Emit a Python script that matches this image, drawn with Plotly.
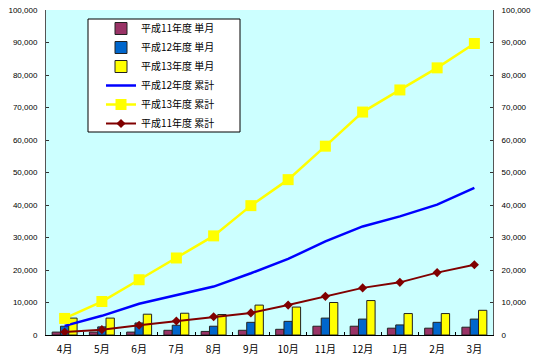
import plotly.graph_objects as go

months = ["4月", "5月", "6月", "7月", "8月", "9月", "10月", "11月", "12月", "1月", "2月", "3月"]

h11_month = [900, 900, 900, 1450, 1100, 1450, 1750, 2700, 2700, 2100, 2100, 2400]
h12_month = [2700, 2500, 3700, 3000, 2700, 3900, 4200, 5200, 4900, 3100, 3900, 4900]
h13_month = [5200, 5200, 6400, 6700, 6300, 9200, 8600, 10000, 10600, 6600, 6600, 7600]

h12_cum = [2800, 5900, 9600, 12300, 14900, 19000, 23400, 28800, 33400, 36500, 40100, 45300]
h13_cum = [5100, 10300, 17000, 23700, 30500, 39800, 47800, 58100, 68600, 75400, 82200, 89700]
h11_cum = [900, 1650, 3000, 4300, 5600, 6800, 9200, 11900, 14500, 16200, 19200, 21600]

y_ticks = list(range(0, 100001, 10000))

jp = "Noto Sans CJK JP"
num = "Liberation Sans"

fig = go.Figure()

fig.add_trace(go.Bar(name="平成11年度 単月", x=months, y=h11_month,
                     marker=dict(color="#993366", line=dict(color="#222222", width=1)),
                     legendgroup="a"))
fig.add_trace(go.Bar(name="平成12年度 単月", x=months, y=h12_month,
                     marker=dict(color="#0066CC", line=dict(color="#222222", width=1)),
                     legendgroup="b"))
fig.add_trace(go.Bar(name="平成13年度 単月", x=months, y=h13_month,
                     marker=dict(color="#FFFF00", line=dict(color="#222222", width=1)),
                     legendgroup="c"))
fig.add_trace(go.Scatter(name="平成12年度 累計", x=months, y=h12_cum, mode="lines",
                         line=dict(color="#0000FF", width=2.5), yaxis="y2",
                         legendgroup="d"))
fig.add_trace(go.Scatter(name="平成13年度 累計", x=months, y=h13_cum, mode="lines+markers",
                         line=dict(color="#FFFF00", width=2.5),
                         marker=dict(symbol="square", size=11, color="#FFFF00"), yaxis="y2",
                         legendgroup="e"))
fig.add_trace(go.Scatter(name="平成11年度 累計", x=months, y=h11_cum, mode="lines+markers",
                         line=dict(color="#800000", width=2),
                         marker=dict(symbol="diamond", size=7, color="#800000"), yaxis="y2",
                         legendgroup="f"))

fig.update_layout(
    width=540, height=357,
    margin=dict(l=46, r=47, t=10, b=22, autoexpand=False),
    paper_bgcolor="white",
    plot_bgcolor="#CCFFFF",
    barmode="group",
    bargap=0.33,
    bargroupgap=0.0,
    showlegend=True,
    legend=dict(
        x=(101 - 46) / 447, xanchor="left",
        y=1 - (14 - 10) / 325, yanchor="top",
        bgcolor="rgba(0,0,0,0)",
        borderwidth=0,
        font=dict(family=jp, size=10, color="black"),
        traceorder="grouped",
        tracegroupgap=0,
        itemwidth=30,
    ),
    xaxis=dict(
        type="category",
        range=[-0.5, len(months) - 0.5],
        showgrid=False,
        showline=True, linecolor="black", linewidth=1,
        ticks="inside", ticklen=3, tickcolor="black", tickson="boundaries",
        tickfont=dict(family=jp, size=10, color="black"),
        ticklabelstandoff=5,
        automargin=False,
    ),
    yaxis=dict(
        range=[0, 100000],
        tickvals=y_ticks,
        tickformat=",",
        showgrid=False,
        showline=True, linecolor="#555555", linewidth=1,
        ticks="inside", ticklen=3, tickcolor="#333333",
        tickfont=dict(family=num, size=8, color="black"),
        ticklabelstandoff=6,
        zeroline=False,
        automargin=False,
    ),
    yaxis2=dict(
        range=[0, 100000],
        tickvals=y_ticks,
        tickformat=",",
        overlaying="y", side="right",
        showgrid=False,
        showline=True, linecolor="#555555", linewidth=1,
        ticks="inside", ticklen=3, tickcolor="#333333",
        tickfont=dict(family=num, size=8, color="black"),
        ticklabelstandoff=6,
        zeroline=False,
        automargin=False,
    ),
    shapes=[dict(
        type="rect", xref="paper", yref="paper",
        x0=(88 - 46) / 447, x1=(240 - 46) / 447,
        y0=1 - (132 - 10) / 325, y1=1 - (19 - 10) / 325,
        fillcolor="white", line=dict(color="black", width=1),
        layer="above",
    )],
)

fig.write_html("out.html", config={"displayModeBar": False},
               post_script="document.body.style.margin='0';document.body.style.overflow='hidden';")
